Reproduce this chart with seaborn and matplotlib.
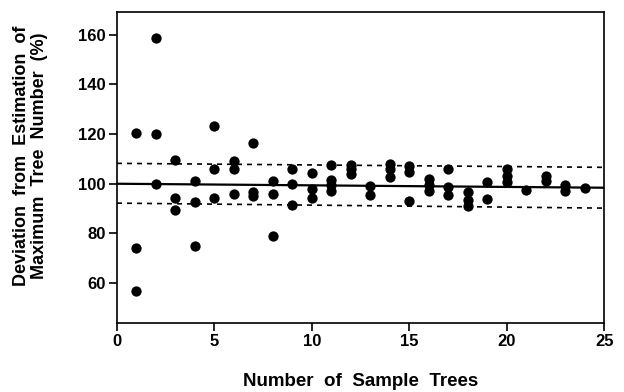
import matplotlib
matplotlib.use("Agg")
import matplotlib.pyplot as plt
import seaborn as sns
import pandas as pd

# Data
sample_trees = [1, 1, 1,
                2, 2, 2,
                3, 3, 3,
                4, 4, 4,
                5, 5, 5,
                6, 6, 6,
                7, 7, 7,
                8, 8, 8,
                9, 9, 9,
                10, 10, 10,
                11, 11, 11, 11,
                12, 12, 12,
                13, 13,
                14, 14, 14,
                15, 15, 15,
                16, 16, 16,
                17, 17, 17,
                18, 18, 18,
                19, 19,
                20, 20, 20,
                21,
                22, 22,
                23, 23,
                24]
deviation = [120.4, 74.3, 56.7,
             158.7, 120.1, 100.0,
             109.6, 94.3, 89.5,
             101.2, 92.7, 74.9,
             123.3, 106.0, 94.3,
             109.3, 106.0, 95.9,
             116.4, 96.7, 95.1,
             101.2, 95.9, 78.9,
             106.0, 100.0, 91.3,
             104.3, 98.0, 94.3,
             107.6, 101.7, 99.3, 96.9,
             107.5, 106.0, 104.0,
             99.0, 95.6,
             108.0, 106.0, 102.7,
             107.3, 104.7, 93.0,
             102.0, 99.5, 97.0,
             106.0, 98.7, 95.3,
             96.7, 93.3, 91.0,
             100.7, 93.7,
             106.0, 103.3, 100.7,
             97.3,
             103.3, 101.3,
             99.3, 97.0,
             98.3]

line_x = [0, 25]
mean_line = [100.0, 98.4]
upper_line = [108.2, 106.6]
lower_line = [92.2, 90.2]

x_ticks = [0, 5, 10, 15, 20, 25]
y_ticks = [60, 80, 100, 120, 140, 160]
x_label = "Number  of  Sample  Trees"
y_label = "Deviation  from  Estimation  of\nMaximum  Tree  Number  (%)"

sns.set_theme(style="ticks")
plt.rcParams['font.family'] = ['Liberation Sans', 'DejaVu Sans']
plt.rcParams['font.weight'] = 'bold'
plt.rcParams['text.color'] = 'black'
plt.rcParams['axes.labelcolor'] = 'black'
plt.rcParams['xtick.color'] = 'black'
plt.rcParams['ytick.color'] = 'black'
plt.rcParams['axes.edgecolor'] = 'black'

fig = plt.figure(figsize=(6.24, 3.92), dpi=100)
ax = fig.add_axes([0.1875, 0.176, 0.781, 0.793])

df = pd.DataFrame({"x": sample_trees, "y": deviation})
lines = pd.DataFrame({"x": line_x, "mean": mean_line, "up": upper_line, "lo": lower_line})

sns.lineplot(data=lines, x="x", y="mean", ax=ax, color="black", linewidth=1.6)
sns.lineplot(data=lines, x="x", y="up", ax=ax, color="black", linewidth=1.2,
             linestyle=(0, (3, 3)))
sns.lineplot(data=lines, x="x", y="lo", ax=ax, color="black", linewidth=1.2,
             linestyle=(0, (3, 3)))
sns.scatterplot(data=df, x="x", y="y", ax=ax, color="black", s=55,
                edgecolor="black", linewidth=0, zorder=3)

ax.set_xlim(0, 25)
ax.set_ylim(44, 169)
ax.set_xticks(x_ticks)
ax.set_yticks(y_ticks)
ax.set_xticklabels([str(t) for t in x_ticks], fontsize=12, fontweight='bold', color='black')
ax.set_yticklabels([str(t) for t in y_ticks], fontsize=12, fontweight='bold', color='black')
ax.tick_params(direction='out', length=6, width=1.2, color='black', pad=2)
for s in ax.spines.values():
    s.set_linewidth(1.2)
    s.set_color('black')
ax.set_xlabel(x_label, fontsize=13.5, fontweight='bold', color='black')
ax.set_ylabel(y_label, fontsize=13, fontweight='bold', linespacing=1.05, color='black')
ax.xaxis.label.set_va('center')
ax.yaxis.label.set_va('center')
ax.xaxis.set_label_coords(0.5, -0.188)
ax.yaxis.set_label_coords(-0.177, 0.537)

fig.savefig("out.png", dpi=100, facecolor="white")
